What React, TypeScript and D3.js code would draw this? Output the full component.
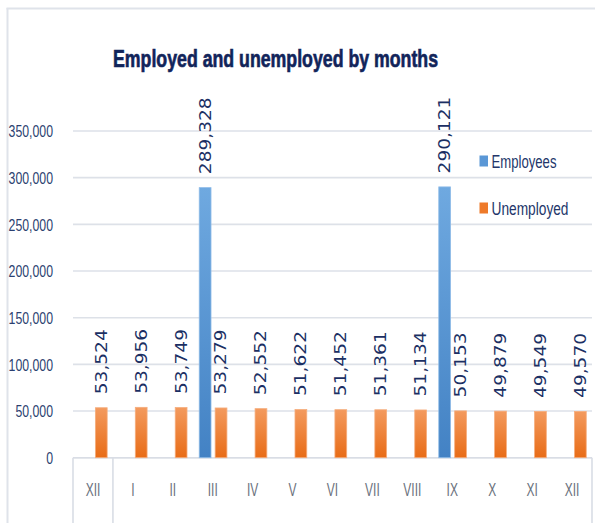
import React from "react";
import * as d3 from "d3";

const months = ["XII", "I", "II", "III", "IV", "V", "VI", "VII", "VIII", "IX", "X", "XI", "XII"];
const employees: (number | null)[] = [null, null, null, 289328, null, null, null, null, null, 290121, null, null, null];
const unemployed: number[] = [53524, 53956, 53749, 53279, 52552, 51622, 51452, 51361, 51134, 50153, 49879, 49549, 49570];
const seriesNames = ["Employees", "Unemployed"];
const yTicks = [0, 50000, 100000, 150000, 200000, 250000, 300000, 350000];
const title = "Employed and unemployed by months";

const W = 595;
const H = 523;
const plotLeft = 73;
const plotRight = 592;
const plotTop = 131;
const plotBottom = 457.7;

export default function App() {
  const x = d3.scaleBand<number>().domain(d3.range(months.length)).range([plotLeft, plotRight]).padding(0);
  const y = d3.scaleLinear().domain([0, 350000]).range([plotBottom, plotTop]);
  const inner = d3.scaleBand<string>().domain(seriesNames).range([-13.5, 14.2]).paddingInner(0.26);
  const fmt = d3.format(",");
  const labelFont = "'DejaVu Sans', Verdana, sans-serif";
  const uiFont = "'Liberation Sans', Arial, sans-serif";
  const colors: Record<string, string> = { Employees: "url(#gBlue)", Unemployed: "url(#gOrange)" };
  const strokes: Record<string, string> = { Employees: "#8ebbe8", Unemployed: "#f5ad7d" };
  const legendSwatch: Record<string, string> = { Employees: "#5a97d6", Unemployed: "#ee7a2a" };

  const bars: { s: string; i: number; v: number }[] = [];
  months.forEach((_, i) => {
    if (employees[i] != null) bars.push({ s: "Employees", i, v: employees[i] as number });
    bars.push({ s: "Unemployed", i, v: unemployed[i] });
  });

  return (
    <svg width={W} height={H} style={{ position: "absolute", left: 0, top: 0, background: "#fff" }}>
      <defs>
        <linearGradient id="gBlue" x1="0" y1="0" x2="0" y2="1">
          <stop offset="0" stopColor="#6fa9e0" />
          <stop offset="1" stopColor="#4382c4" />
        </linearGradient>
        <linearGradient id="gOrange" x1="0" y1="0" x2="0" y2="1">
          <stop offset="0" stopColor="#f39a5e" />
          <stop offset="1" stopColor="#e86c17" />
        </linearGradient>
      </defs>
      <rect x={0} y={0} width={W} height={H} fill="#fff" />
      {/* outer frame */}
      <line x1={7.5} y1={8} x2={7.5} y2={H} stroke="#dfe3ea" strokeWidth={2} />
      <line x1={6.5} y1={8.5} x2={W} y2={8.5} stroke="#dfe3ea" strokeWidth={2} />

      {/* title */}
      <text
        transform={`translate(${(113 + 438) / 2},67) scale(1,1.3)`}
        textAnchor="middle"
        fontFamily={uiFont}
        fontWeight="bold"
        fontSize={18}
        fill="#11245a"
        stroke="#11245a"
        strokeWidth={0.5}
        textLength={325}
        lengthAdjust="spacingAndGlyphs"
      >
        {title}
      </text>

      {/* gridlines */}
      {yTicks.map((t) => (
        <line key={"g" + t} x1={plotLeft} x2={plotRight} y1={y(t)} y2={y(t)} stroke="#dde1e8" strokeWidth={1.6} />
      ))}

      {/* y tick labels */}
      {yTicks.map((t) => (
        <text
          key={"yt" + t}
          transform={`translate(53,${y(t)}) scale(1,1.4)`}
          dy="0.36em"
          textAnchor="end"
          fontFamily={uiFont}
          fontSize={12.3}
          fill="#2b3f70"
        >
          {fmt(t)}
        </text>
      ))}

      {/* category axis box */}
      <line x1={plotLeft} x2={plotRight} y1={plotBottom} y2={plotBottom} stroke="#d9dde5" strokeWidth={1.6} />
      <line x1={plotLeft} x2={plotLeft} y1={plotBottom} y2={H} stroke="#d9dde5" strokeWidth={1.6} />
      <line x1={(x(1) as number)} x2={(x(1) as number)} y1={plotBottom} y2={H} stroke="#d9dde5" strokeWidth={1.6} />
      <line x1={plotRight} x2={plotRight} y1={plotBottom} y2={H} stroke="#d9dde5" strokeWidth={1.6} />
      {months.map((m, i) => (
        <text
          key={"c" + i}
          transform={`translate(${(x(i) as number) + x.bandwidth() / 2},489) scale(1,1.55)`}
          dy="0.36em"
          textAnchor="middle"
          fontFamily={uiFont}
          fontSize={12}
          fill="#6b727d"
        >
          {m}
        </text>
      ))}

      {/* bars */}
      {bars.map((b) => {
        const cx = (x(b.i) as number) + x.bandwidth() / 2;
        const bx = cx + (inner(b.s) as number);
        return (
          <rect
            key={b.s + b.i}
            x={bx}
            y={y(b.v)}
            width={inner.bandwidth()}
            height={plotBottom - y(b.v)}
            fill={colors[b.s]}
            stroke={strokes[b.s]}
            strokeWidth={0.8}
          />
        );
      })}

      {/* data labels */}
      {bars.map((b) => {
        const cx = (x(b.i) as number) + x.bandwidth() / 2 + (inner(b.s) as number) + inner.bandwidth() / 2;
        const ty = y(b.v) - 13.5;
        return (
          <text
            key={"l" + b.s + b.i}
            transform={`translate(${cx},${ty}) scale(1,1.24) rotate(-90)`}
            dy="0.36em"
            textAnchor="start"
            fontFamily={labelFont}
            fontSize={15}
            fill="#1b2f63"
          >
            {fmt(b.v)}
          </text>
        );
      })}

      {/* legend */}
      {seriesNames.map((s, k) => {
        const cy = 161 + k * 47;
        return (
          <g key={"lg" + s}>
            <rect x={479.5} y={cy - 5.5} width={8.5} height={11} fill={legendSwatch[s]} />
            <text
              transform={`translate(491.5,${cy}) scale(1,1.43)`}
              dy="0.36em"
              fontFamily={uiFont}
              fontSize={13}
              fill="#23366a"
              textLength={s === "Employees" ? 65 : 77}
              lengthAdjust="spacingAndGlyphs"
            >
              {s}
            </text>
          </g>
        );
      })}
    </svg>
  );
}
